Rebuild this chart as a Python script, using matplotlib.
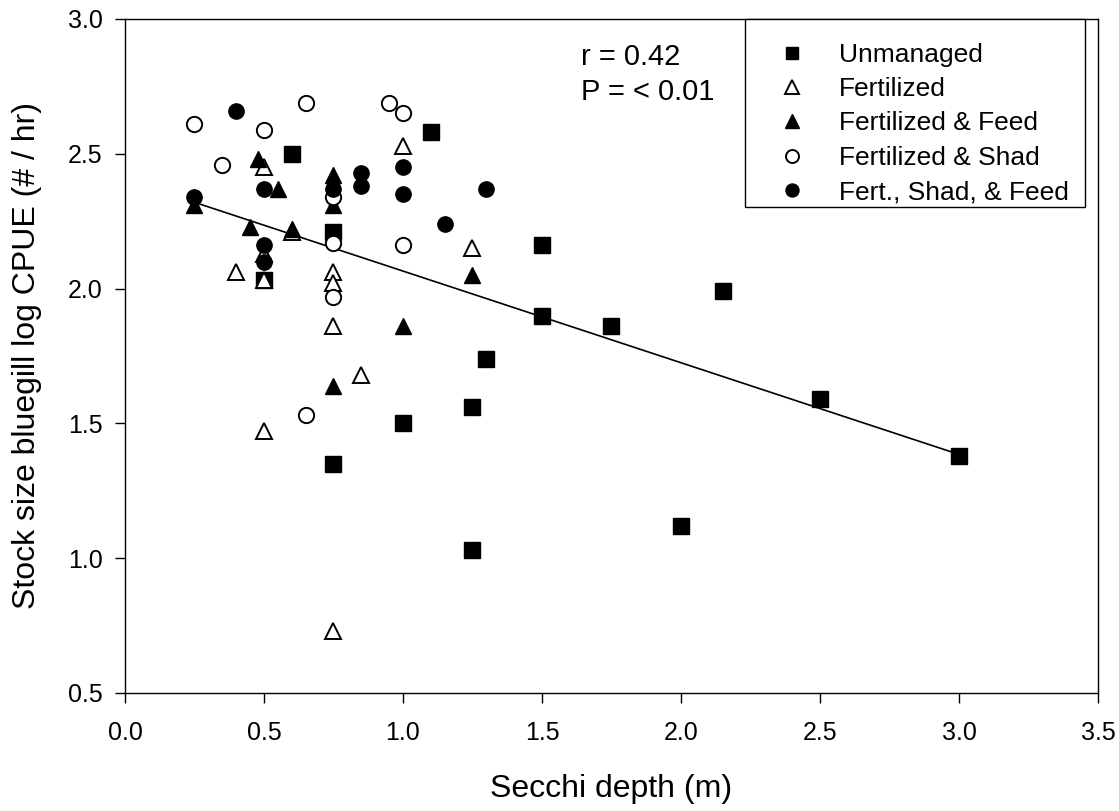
import matplotlib
matplotlib.use("Agg")
import matplotlib.pyplot as plt
from matplotlib.patches import Rectangle

plt.rcParams['font.family'] = ['Liberation Sans', 'DejaVu Sans']

unmanaged_x = [0.6, 0.5, 0.75, 0.75, 1.1, 1.0, 1.25, 1.25, 1.3, 1.5, 1.5, 1.75, 2.0, 2.15, 2.5, 3.0]
unmanaged_y = [2.50, 2.03, 2.21, 1.35, 2.58, 1.50, 1.03, 1.56, 1.74, 2.16, 1.90, 1.86, 1.12, 1.99, 1.59, 1.38]

fert_x = [0.4, 0.5, 0.5, 0.5, 0.5, 0.6, 0.75, 0.75, 0.75, 0.75, 0.85, 1.0, 1.25]
fert_y = [2.06, 2.45, 2.03, 2.13, 1.47, 2.21, 2.06, 2.02, 1.86, 0.73, 1.68, 2.53, 2.15]

feed_x = [0.25, 0.45, 0.48, 0.55, 0.6, 0.75, 0.75, 0.75, 1.0, 1.25]
feed_y = [2.31, 2.23, 2.48, 2.37, 2.22, 2.42, 2.31, 1.64, 1.86, 2.05]

shad_x = [0.25, 0.35, 0.5, 0.65, 0.95, 1.0, 0.75, 0.75, 0.75, 0.65, 1.0]
shad_y = [2.61, 2.46, 2.59, 2.69, 2.69, 2.65, 2.34, 2.17, 1.97, 1.53, 2.16]

fsf_x = [0.25, 0.4, 0.5, 0.5, 0.5, 0.75, 0.85, 0.85, 1.0, 1.0, 1.15, 1.3]
fsf_y = [2.34, 2.66, 2.37, 2.16, 2.10, 2.37, 2.43, 2.38, 2.45, 2.35, 2.24, 2.37]

fit_x = [0.25, 3.0]
fit_y = [2.32, 1.385]

fig = plt.figure(figsize=(11.19, 8.11), dpi=100)
ax = fig.add_axes([0.1117, 0.1455, 0.8695, 0.8311])

ax.plot(fit_x, fit_y, color='black', lw=1.2, zorder=1)

ms = 11
ax.plot(unmanaged_x, unmanaged_y, ls='none', marker='s', ms=ms, mfc='black', mec='black', label='Unmanaged', zorder=3)
ax.plot(fert_x, fert_y, ls='none', marker='^', ms=ms+1, mfc='white', mec='black', mew=1.4, label='Fertilized', zorder=3)
ax.plot(feed_x, feed_y, ls='none', marker='^', ms=ms+1, mfc='black', mec='black', label='Fertilized & Feed', zorder=3)
ax.plot(shad_x, shad_y, ls='none', marker='o', ms=ms, mfc='white', mec='black', mew=1.4, label='Fertilized & Shad', zorder=3)
ax.plot(fsf_x, fsf_y, ls='none', marker='o', ms=ms, mfc='black', mec='black', label='Fert., Shad, & Feed', zorder=3)

ax.set_xlim(0, 3.5)
ax.set_ylim(0.5, 3.0)
ax.set_xticks([0.0, 0.5, 1.0, 1.5, 2.0, 2.5, 3.0, 3.5])
ax.set_yticks([0.5, 1.0, 1.5, 2.0, 2.5, 3.0])
ax.set_xticklabels(['0.0', '0.5', '1.0', '1.5', '2.0', '2.5', '3.0', '3.5'])
ax.set_yticklabels(['0.5', '1.0', '1.5', '2.0', '2.5', '3.0'])
ax.tick_params(direction='out', length=7, width=1, labelsize=18)
ax.tick_params(axis='x', pad=13)
ax.tick_params(axis='y', pad=9)
for s in ax.spines.values():
    s.set_linewidth(1)

ax.set_xlabel('Secchi depth (m)', fontsize=23, labelpad=21)
ax.set_ylabel('Stock size bluegill log CPUE (# / hr)', fontsize=23, labelpad=19)

ax.text(1.64, 2.859, 'r = 0.42', fontsize=21, va='center', ha='left')
ax.text(1.64, 2.729, 'P = < 0.01', fontsize=21, va='center', ha='left')

# legend box frame
ax.add_patch(Rectangle((0.637, 0.721), 0.3496, 0.279, transform=ax.transAxes,
                       facecolor='white', edgecolor='black', lw=1, zorder=4, clip_on=False))
leg = ax.legend(loc='upper right', bbox_to_anchor=(0.9865, 0.988), fontsize=19, frameon=False,
                markerscale=0.85, handlelength=2.7,
                handletextpad=0.42, borderpad=0.6, labelspacing=0.39, borderaxespad=0)
leg.set_zorder(5)

fig.savefig('out.png', dpi=100)
